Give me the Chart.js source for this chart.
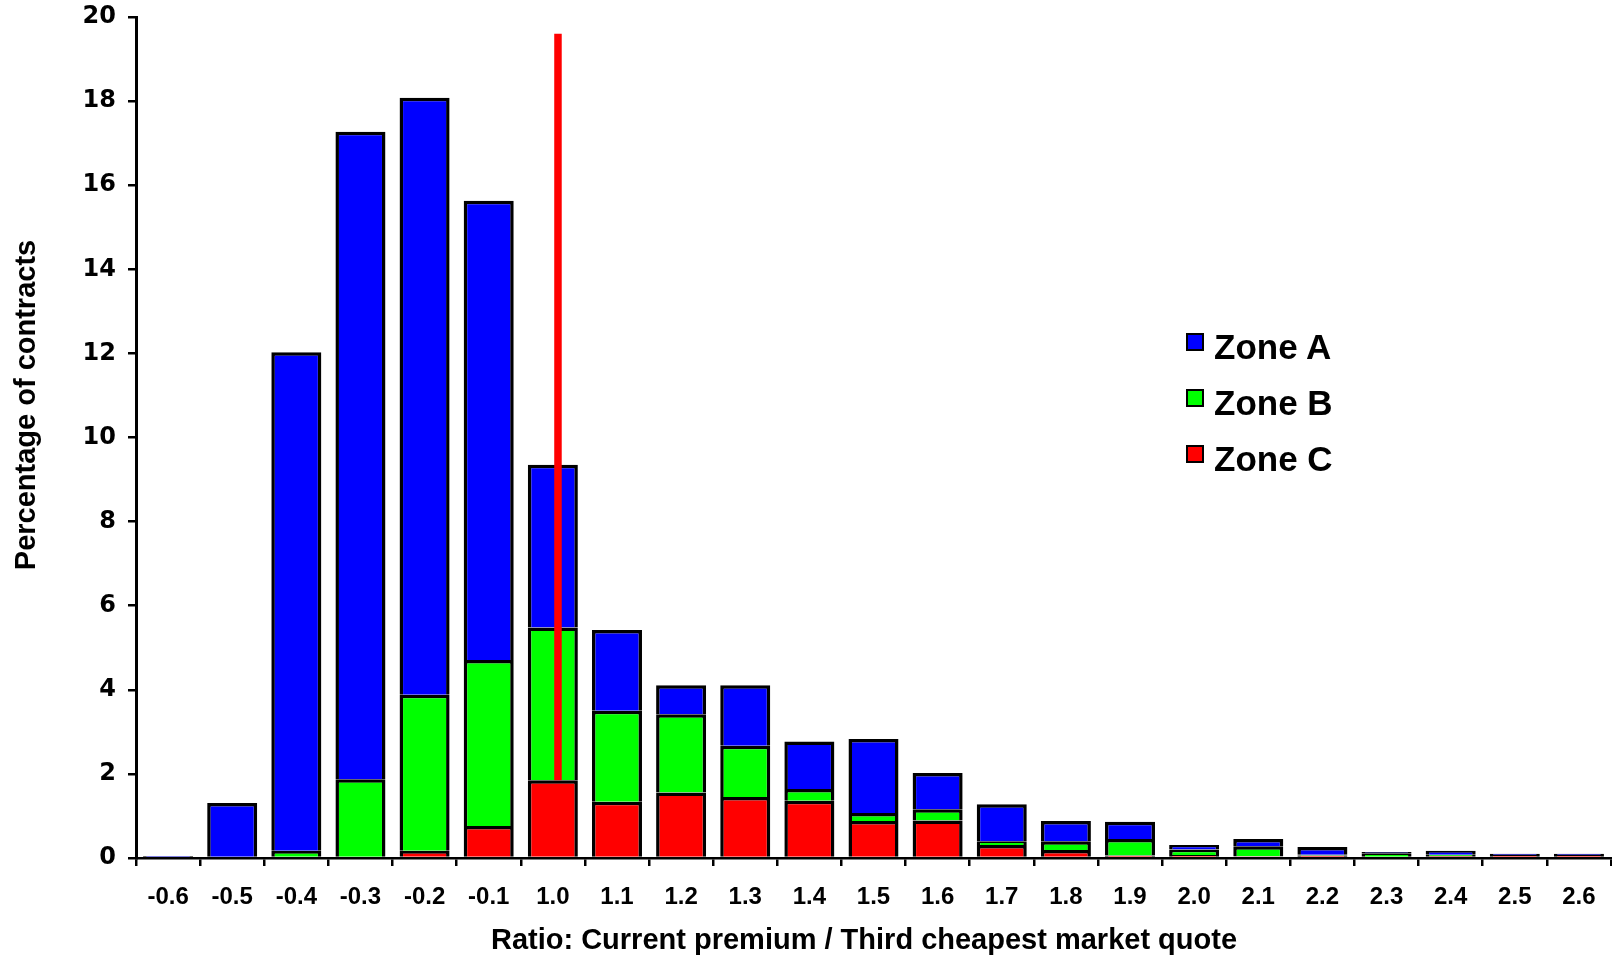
<!DOCTYPE html>
<html>
<head>
<meta charset="utf-8">
<script src="https://cdn.jsdelivr.net/npm/chart.js@4.4.1/dist/chart.umd.min.js"></script>
<style>
    body { margin: 0; background: #fff; }
    #wrap { position: relative; width: 1612px; height: 956px; }
    .lg-box { position: absolute; width: 14px; height: 14px; border: 2px solid #000; }
    .lg-text { position: absolute; font: bold 35px "Liberation Sans", Arial, sans-serif; line-height: 35px; color: #000; white-space: nowrap; }
</style>
</head>
<body>
<div id="wrap">
    <canvas id="myChart" width="1612" height="956"></canvas>
</div>
<script>
// jshint esversion:6

var categories = ["-0.6", "-0.5", "-0.4", "-0.3", "-0.2", "-0.1", "1.0", "1.1", "1.2", "1.3", "1.4", "1.5",
    "1.6", "1.7", "1.8", "1.9", "2.0", "2.1", "2.2", "2.3", "2.4", "2.5", "2.6"];

var zoneA = [0.05, 1.31, 11.86, 15.40, 14.20, 10.92, 3.87, 1.92, 0.69, 1.44, 1.13, 1.76,
    0.86, 0.88, 0.48, 0.41, 0.11, 0.17, 0.18, 0.03, 0.09, 0.03, 0.03];
var zoneB = [0, 0, 0.17, 1.87, 3.71, 3.95, 3.63, 2.16, 1.86, 1.22, 0.28, 0.19,
    0.27, 0.09, 0.21, 0.39, 0.13, 0.24, 0.02, 0.08, 0.03, 0, 0];
var zoneC = [0, 0, 0, 0, 0.17, 0.76, 1.85, 1.34, 1.56, 1.45, 1.36, 0.88,
    0.89, 0.31, 0.19, 0.06, 0.07, 0.04, 0.06, 0.03, 0.05, 0.07, 0.07];

var zoneLabels = ["Zone A", "Zone B", "Zone C"];
var zoneColors = ["#0000ff", "#00ff00", "#ff0000"];

// red marker line at ratio 1.0 (position on category index scale, value range)
var markerPos = 6.58;
var markerRange = [1.85, 19.6];

var yTicks = [0, 2, 4, 6, 8, 10, 12, 14, 16, 18, 20];
var xTitle = "Ratio: Current premium / Third cheapest market quote";
var yTitle = "Percentage of contracts";

Chart.defaults.font.family = '"Liberation Sans", Arial, sans-serif';
Chart.defaults.color = "#000";

// axis titles drawn by hand so they sit where the original has them
var axisTitles = {
    id: "axisTitles",
    afterDraw: (chart) => {
        var ctx = chart.ctx;
        ctx.save();
        ctx.fillStyle = "#000";
        ctx.font = 'bold 29px "Liberation Sans", Arial, sans-serif';
        ctx.textAlign = "center";
        ctx.textBaseline = "alphabetic";
        ctx.fillText(xTitle, 864, 949);
        ctx.translate(35, 405);
        ctx.rotate(-Math.PI / 2);
        ctx.fillText(yTitle, 0, 0);
        ctx.restore();
    }
};

var barSets = [];
var zoneData = [zoneC, zoneB, zoneA];
for (var i = 0; i < 3; i++) {
    var k = 2 - i;
    barSets.push({
        label: zoneLabels[k],
        data: zoneData[i],
        backgroundColor: zoneColors[k],
        borderColor: "#000",
        borderWidth: 3.5,
        borderSkipped: "start",
        barPercentage: 0.78,
        categoryPercentage: 1.0,
        grouped: false,
        stack: "zones"
    });
}

barSets.push({
    type: "line",
    label: "marker",
    data: [{ x: markerPos, y: markerRange[0] }, { x: markerPos, y: markerRange[1] }],
    xAxisID: "xLine",
    stack: "marker",
    borderColor: "#ff0000",
    borderWidth: 7.5,
    borderCapStyle: "butt",
    pointRadius: 0,
    order: -1
});

var chart = new Chart(document.getElementById("myChart"), {
    type: "bar",
    data: {
        labels: categories,
        datasets: barSets
    },
    options: {
        responsive: false,
        animation: false,
        devicePixelRatio: 1,
        layout: { padding: { top: 17, right: 1, bottom: 0, left: 0 } },
        plugins: {
            legend: { display: false },
            tooltip: { enabled: false }
        },
        scales: {
            x: {
                stacked: true,
                afterFit: (scale) => {
                    scale.height = 98;
                    scale.paddingLeft = 0;
                    scale.paddingRight = 0;
                },
                grid: {
                    offset: true,
                    drawOnChartArea: false,
                    drawTicks: true,
                    tickLength: 8,
                    color: "#000",
                    lineWidth: 2.5
                },
                border: { display: true, color: "#000", width: 2.5 },
                ticks: {
                    padding: 17,
                    maxRotation: 0,
                    autoSkip: false,
                    font: { size: 24, weight: "bold" }
                }
            },
            xLine: {
                type: "linear",
                display: false,
                offset: false,
                grid: { offset: false },
                min: 0,
                max: categories.length
            },
            y: {
                stacked: true,
                min: yTicks[0],
                max: yTicks[yTicks.length - 1],
                afterFit: (scale) => {
                    scale.width = 136;
                    scale.paddingTop = 0;
                    scale.paddingBottom = 0;
                },
                afterBuildTicks: (scale) => { scale.ticks = yTicks.map((v) => ({ value: v })); },
                grid: {
                    drawOnChartArea: false,
                    drawTicks: true,
                    tickLength: 8,
                    color: "#000",
                    lineWidth: 2.5
                },
                border: { display: true, color: "#000", width: 3 },
                ticks: {
                    padding: 12,
                    font: { family: '"DejaVu Sans", sans-serif', size: 24, weight: "bold" }
                }
            }
        }
    },
    plugins: [axisTitles]
});

// legend built from the zone arrays
var wrap = document.getElementById("wrap");
zoneLabels.forEach((name, idx) => {
    var box = document.createElement("div");
    box.className = "lg-box";
    box.style.left = "1186px";
    box.style.top = (333 + idx * 56) + "px";
    box.style.background = zoneColors[idx];
    wrap.appendChild(box);

    var txt = document.createElement("div");
    txt.className = "lg-text";
    txt.style.left = "1214px";
    txt.style.top = (329 + idx * 56) + "px";
    txt.innerHTML = name;
    wrap.appendChild(txt);
});
</script>
</body>
</html>
